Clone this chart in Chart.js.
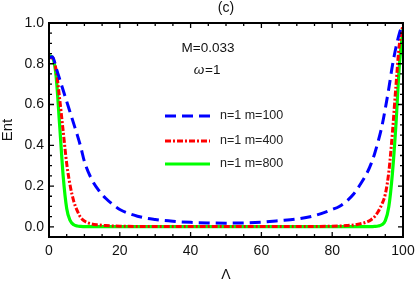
<!DOCTYPE html>
<html>
<head>
<meta charset="utf-8">
<script src="https://cdn.jsdelivr.net/npm/chart.js@4"></script>
<style>
  body { margin: 0; background: #fff; }
  canvas { display: block; }
</style>
</head>
<body>
<canvas id="entChart" width="415" height="284"></canvas>
<script>
// Data
const lambdaValues = [0, 1, 2, 3, 4, 5, 6, 7, 8, 9, 10, 12, 14, 16, 18, 20, 25, 30, 35, 40, 45, 50, 55, 60, 65, 70, 75, 80, 82, 84, 86, 88, 90, 91, 92, 93, 94, 95, 96, 97, 98, 99, 100];
const entM100 = [0.83, 0.835, 0.78, 0.725, 0.67, 0.615, 0.56, 0.505, 0.45, 0.39, 0.32, 0.235, 0.18, 0.14, 0.11, 0.085, 0.052, 0.036, 0.027, 0.022, 0.019, 0.018, 0.019, 0.023, 0.03, 0.038, 0.055, 0.085, 0.10, 0.125, 0.16, 0.21, 0.27, 0.31, 0.36, 0.42, 0.49, 0.58, 0.68, 0.79, 0.88, 0.95, 1.0];
const entM400 = [0.83, 0.83, 0.77, 0.63, 0.47, 0.31, 0.20, 0.125, 0.078, 0.045, 0.028, 0.014, 0.009, 0.006, 0.004, 0.003, 0.002, 0.002, 0.002, 0.002, 0.002, 0.002, 0.002, 0.002, 0.002, 0.002, 0.002, 0.003, 0.004, 0.006, 0.009, 0.015, 0.025, 0.035, 0.05, 0.075, 0.11, 0.16, 0.27, 0.46, 0.69, 0.90, 0.99];
const entM800 = [0.84, 0.83, 0.74, 0.50, 0.25, 0.09, 0.03, 0.01, 0.004, 0.002, 0.001, 0.001, 0.001, 0.001, 0.001, 0.001, 0.001, 0.001, 0.001, 0.001, 0.001, 0.001, 0.001, 0.001, 0.001, 0.001, 0.001, 0.001, 0.001, 0.001, 0.001, 0.001, 0.001, 0.001, 0.002, 0.004, 0.01, 0.03, 0.10, 0.26, 0.50, 0.80, 0.97];
const seriesLabels = ['n=1 m=100', 'n=1 m=400', 'n=1 m=800'];
const xTickValues = [0, 20, 40, 60, 80, 100];
const yTickValues = [0, 0.2, 0.4, 0.6, 0.8, 1.0];

const FONT = "'Liberation Sans', Arial, sans-serif";

function toPoints(ys) {
    return lambdaValues.map((x, i) => ({ x: x, y: ys[i] }));
}

// Frame, inward ticks, legend and notes
const framePlugin = {
    id: 'framePlugin',
    afterDatasetsDraw(chart) {
        const c = chart.ctx;
        const area = chart.chartArea;
        const xs = chart.scales.x;
        const ys = chart.scales.y;

        c.save();
        c.strokeStyle = '#000';

        // minor + major ticks, all four sides
        c.lineWidth = 1.3;
        for (let v = 0; v <= 100; v += 5) {
            const px = xs.getPixelForValue(v);
            const len = v % 20 === 0 ? 5 : 3;
            c.beginPath();
            c.moveTo(px, area.bottom); c.lineTo(px, area.bottom - len);
            c.moveTo(px, area.top); c.lineTo(px, area.top + len);
            c.stroke();
        }
        for (let k = 0; k <= 20; k++) {
            const v = k * 0.05;
            const py = ys.getPixelForValue(v);
            const len = k % 4 === 0 ? 5 : 3;
            c.beginPath();
            c.moveTo(area.left, py); c.lineTo(area.left + len, py);
            c.moveTo(area.right, py); c.lineTo(area.right - len, py);
            c.stroke();
        }

        c.lineWidth = 2;
        c.strokeRect(area.left, area.top, area.right - area.left, area.bottom - area.top);

        // legend inside the plot
        const rows = [116, 141, 164];
        chart.data.datasets.forEach((ds, i) => {
            c.strokeStyle = ds.borderColor;
            c.lineWidth = ds.borderWidth;
            c.setLineDash(ds.borderDash || []);
            c.beginPath();
            c.moveTo(165, rows[i]);
            c.lineTo(210, rows[i]);
            c.stroke();
            c.setLineDash([]);
            c.fillStyle = '#222';
            c.font = '12.5px ' + FONT;
            c.textAlign = 'left';
            c.textBaseline = 'middle';
            c.fillText(ds.label, 220, rows[i]);
        });

        // notes
        c.fillStyle = '#111';
        c.textAlign = 'center';
        c.textBaseline = 'middle';
        c.font = '14px ' + FONT;
        c.fillText('(c)', 226, 8);
        c.font = '13.5px ' + FONT;
        c.fillText('M=0.033', 208, 48);
        c.font = 'italic 13.5px ' + FONT;
        c.fillText('\u03c9', 199, 70);
        c.font = '13.5px ' + FONT;
        c.textAlign = 'left';
        c.fillText('=1', 205, 70);
        c.restore();
    }
};

const ctx = document.getElementById('entChart').getContext('2d');
const entChart = new Chart(ctx, {
    type: 'line',
    data: {
        datasets: [
            {
                label: seriesLabels[0],
                data: toPoints(entM100),
                borderColor: '#0000ff',
                borderWidth: 3,
                borderDash: [11, 6],
                pointRadius: 0,
                fill: false,
                cubicInterpolationMode: 'monotone'
            },
            {
                label: seriesLabels[1],
                data: toPoints(entM400),
                borderColor: '#ff0000',
                borderWidth: 3,
                borderDash: [6, 2, 2, 2],
                pointRadius: 0,
                fill: false,
                cubicInterpolationMode: 'monotone'
            },
            {
                label: seriesLabels[2],
                data: toPoints(entM800),
                borderColor: '#00ff00',
                borderWidth: 3.2,
                pointRadius: 0,
                fill: false,
                cubicInterpolationMode: 'monotone'
            }
        ]
    },
    options: {
        responsive: false,
        animation: false,
        layout: { padding: { top: 23, right: 12, left: 0, bottom: 0 } },
        plugins: {
            legend: { display: false },
            tooltip: { enabled: false }
        },
        scales: {
            x: {
                type: 'linear',
                min: 0,
                max: 100,
                grid: { display: false, drawTicks: false },
                border: { display: false },
                afterBuildTicks: function(scale) {
                    scale.ticks = xTickValues.map(v => ({ value: v }));
                },
                ticks: {
                    padding: 6,
                    color: '#111',
                    font: { family: FONT, size: 14 },
                    maxRotation: 0,
                    callback: function(value) { return String(value); }
                },
                title: {
                    display: true,
                    text: '\u039b',
                    color: '#111',
                    font: { family: FONT, size: 14 },
                    padding: 0
                },
                afterFit: function(scale) {
                    scale.height = 47;
                    scale.paddingLeft = 0;
                    scale.paddingRight = 0;
                }
            },
            y: {
                min: -0.05,
                max: 1.0,
                grid: { display: false, drawTicks: false },
                border: { display: false },
                afterBuildTicks: function(scale) {
                    scale.ticks = yTickValues.map(v => ({ value: v }));
                },
                ticks: {
                    padding: 5,
                    color: '#111',
                    font: { family: FONT, size: 14 },
                    callback: function(value) { return value.toFixed(1); }
                },
                title: {
                    display: true,
                    text: 'Ent',
                    color: '#111',
                    font: { family: FONT, size: 15, lineHeight: 1 },
                    padding: 0
                },
                afterFit: function(scale) {
                    scale.width = 49;
                    scale.paddingTop = 0;
                    scale.paddingBottom = 0;
                }
            }
        }
    },
    plugins: [framePlugin]
});
</script>
</body>
</html>
